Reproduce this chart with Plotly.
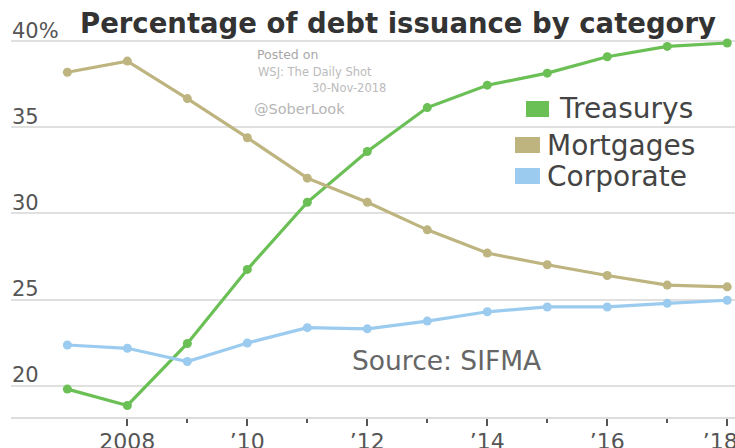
import plotly.graph_objects as go

years = list(range(2007, 2019))
treasurys = [19.8, 18.85, 22.45, 26.75, 30.65, 33.6, 36.15, 37.45, 38.15, 39.1, 39.7, 39.9]
mortgages = [38.2, 38.85, 36.67, 34.4, 32.05, 30.65, 29.05, 27.7, 27.02, 26.4, 25.84, 25.74]
corporate = [22.36, 22.17, 21.4, 22.48, 23.37, 23.3, 23.75, 24.29, 24.57, 24.57, 24.78, 24.96]

series_names = ["Treasurys", "Mortgages", "Corporate"]
series_colors = ["#6abf55", "#bdb47f", "#9bcbef"]

y_tickvals = [20, 25, 30, 35, 40]
y_ticktext = ["20", "25", "30", "35", "40%"]
x_major = [2008, 2010, 2012, 2014, 2016, 2018]
x_major_text = ["2008", "\u201910", "\u201912", "\u201914", "\u201916", "\u201918\u00a0\u00a0"]
x_minor = [2009, 2011, 2013, 2015, 2017]

W, H = 735, 448
ML, MR, MT, MB = 11, 0, 30, 31
PW, PH = W - ML - MR, H - MT - MB


def px_x(px):
    return (px - ML) / PW


def px_y(py):
    return (H - MB - py) / PH


fig = go.Figure()
for name, vals, col in zip(series_names, [treasurys, mortgages, corporate], series_colors):
    fig.add_trace(go.Scatter(
        x=years, y=vals, name=name, mode="lines+markers",
        line=dict(color=col, width=3.2),
        marker=dict(color=col, size=9),
        showlegend=False, cliponaxis=False,
    ))

FONT = "DejaVu Sans"

annotations = [
    dict(text="Percentage of debt issuance by category", x=px_x(78), y=px_y(23),
         xanchor="left", yanchor="middle",
         font=dict(family=FONT, size=27.5, color="#333333", weight=700)),
    dict(text="Posted on", x=px_x(255), y=px_y(55), xanchor="left", yanchor="middle",
         font=dict(family=FONT, size=12.5, color="#a8a8a8")),
    dict(text="WSJ: The Daily Shot", x=px_x(256), y=px_y(72), xanchor="left", yanchor="middle",
         font=dict(family=FONT, size=11.5, color="#bbbbbb")),
    dict(text="30-Nov-2018", x=px_x(388), y=px_y(88), xanchor="right", yanchor="middle",
         font=dict(family=FONT, size=11.5, color="#bbbbbb")),
    dict(text="@SoberLook", x=px_x(252), y=px_y(109), xanchor="left", yanchor="middle",
         font=dict(family=FONT, size=14.5, color="#b5b5b5")),
    dict(text="Source: SIFMA", x=px_x(543), y=px_y(360), xanchor="right", yanchor="middle",
         font=dict(family=FONT, size=26.5, color="#666666")),
]

# legend (squares + labels)
legend_sq = [(526, 549, 101, 117), (515, 540, 137, 153), (515, 540, 168, 184)]
legend_tx = [(557, 108), (545, 145), (545, 176)]
shapes = []
for name, col, (x0, x1, y0, y1), (tx, ty) in zip(series_names, series_colors, legend_sq, legend_tx):
    shapes.append(dict(type="rect", xref="paper", yref="paper",
                       x0=px_x(x0), x1=px_x(x1), y0=px_y(y1), y1=px_y(y0),
                       fillcolor=col, line=dict(width=0)))
    annotations.append(dict(text=name, x=px_x(tx), y=px_y(ty), xanchor="left", yanchor="middle",
                            font=dict(family=FONT, size=28, color="#444444")))

for a in annotations:
    a.update(xref="paper", yref="paper", showarrow=False)

fig.update_layout(
    width=W, height=H,
    margin=dict(l=ML, r=MR, t=MT, b=MB, pad=0, autoexpand=False),
    plot_bgcolor="white", paper_bgcolor="white",
    annotations=annotations, shapes=shapes,
    xaxis=dict(
        range=[2006.06, 2018.13], tickvals=x_major, ticktext=x_major_text,
        ticks="outside", ticklen=7, tickwidth=1.5, tickcolor="#555555",
        minor=dict(ticks="outside", ticklen=4, tickwidth=1.5, tickcolor="#555555", tickvals=x_minor, showgrid=False),
        showgrid=False, zeroline=False, showline=True, linecolor="#dddddd", linewidth=1.5,
        tickfont=dict(family=FONT, size=22, color="#555555"),
        ticklabeloverflow="allow", ticklabelstandoff=-3, automargin=False,
    ),
    yaxis=dict(
        range=[18.18, 40.655], tickvals=y_tickvals, ticktext=y_ticktext,
        ticklabelposition="inside top", showgrid=True, gridcolor="#e0e0e0", gridwidth=1.5,
        zeroline=False, showline=False, ticklabeloverflow="allow", ticklabelstandoff=-2,
        ticklabelshift=4,
        tickfont=dict(family=FONT, size=21, color="#555555"), automargin=False,
    ),
)

fig.write_html("out.html", config={"displayModeBar": False},
               post_script="document.body.style.margin='0';")
